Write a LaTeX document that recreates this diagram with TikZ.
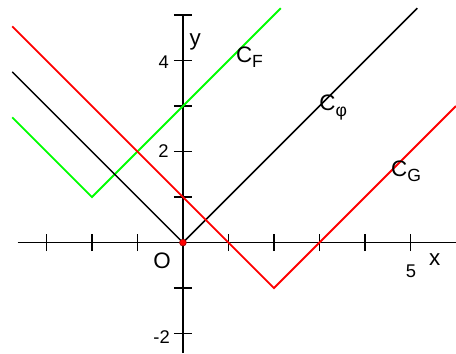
\documentclass[tikz,border=0pt]{standalone}
\usepackage{fontspec}
\setmainfont{Liberation Sans}
\begin{document}
\begin{tikzpicture}[x=1cm,y=1cm,
  axis/.style={line width=1.1pt,black},
  tick/.style={line width=1.1pt,black},
  curveblack/.style={line width=0.9pt,black},
  curvered/.style={line width=1.2pt,red},
  curvegreen/.style={line width=1.2pt,green},
  num/.style={inner sep=0pt,font=\fontsize{11.5}{12}\selectfont},
  lab/.style={inner sep=0pt,font=\fontsize{14}{15}\selectfont},
  curvelab/.style={inner sep=0pt,anchor=west,font=\fontsize{14}{15}\selectfont}]
\useasboundingbox (-4.02,-2.43) rectangle (6.0,5.33);
% axes
\draw[axis] (-3.63,0) -- (6.0,0);
\draw[axis] (0,-2.43) -- (0,5.02);
\foreach \i in {-3,-2,-1,1,2,3,4,5} \draw[tick] (\i,-0.19) -- (\i,0.19);
\foreach \j in {-2,-1,1,2,3,4,5} \draw[tick] (-0.2,\j) -- (0.2,\j);
% curves
\draw[curvegreen] (-3.75,2.75) -- (-2,1) -- (2.15,5.15);
\draw[curveblack] (-3.75,3.75) -- (0,0) -- (5.15,5.15);
\draw[curvered] (-3.75,4.75) -- (2,-1) -- (6.0,3.0);
% origin dot
\filldraw[fill=red,draw=red!60!black,line width=0.4pt] (0,0) circle (0.075);
% labels
\node[lab] (ylab) at (0.27,4.4) {y};
\node[lab] (xlab) at (5.53,-0.38) {x};
\node[lab] (olab) at (-0.46,-0.39) {O};
\node[num] (n4) at (-0.42,3.96) {4};
\node[num] (n2) at (-0.43,2.0) {2};
\node[num] (nm2) at (-0.47,-2.08) {-2};
\node[num] (n5) at (5.01,-0.62) {5};
\node[curvelab] (cf) at (1.16,4.07) {C\raisebox{-0.45ex}{\fontsize{11}{12}\selectfont F}};
\node[curvelab] (cphi) at (2.99,2.97) {C\raisebox{-0.45ex}{\fontsize{11}{12}\selectfont φ}};
\node[curvelab] (cg) at (4.57,1.57) {C\raisebox{-0.45ex}{\fontsize{11}{12}\selectfont G}};
\end{tikzpicture}
\end{document}
